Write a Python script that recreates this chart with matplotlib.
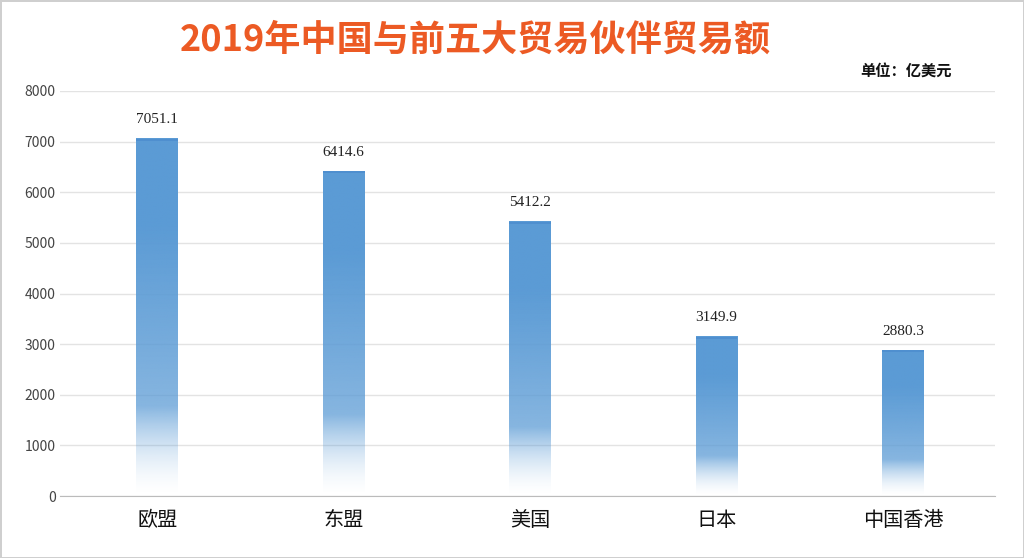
import numpy as np
import matplotlib.pyplot as plt
from matplotlib.patches import Rectangle

plt.rcParams['font.family'] = ['Noto Sans CJK SC', 'DejaVu Sans']

categories = ['欧盟', '东盟', '美国', '日本', '中国香港']
values = [7051.1, 6414.6, 5412.2, 3149.9, 2880.3]
y_ticks = [0, 1000, 2000, 3000, 4000, 5000, 6000, 7000, 8000]

fig = plt.figure(figsize=(10.24, 5.58), dpi=100)
fig.patch.set_edgecolor('#cfcfcf')
fig.patch.set_linewidth(2)
ax = fig.add_axes([0.059, 0.111, 0.913, 0.726])

bar_w = 0.225
top_rgb = np.array([0x5b, 0x9b, 0xd5]) / 255.0
for i, v in enumerate(values):
    # gradient: solid near top, fading to white toward the bottom
    n = 200
    t = np.linspace(1, 0, n)  # 1 at top row, 0 at bottom
    alpha = np.clip(t / 0.75, 0, 1) ** 0.8
    alpha = 0.55 + 0.45 * alpha
    alpha[t < 0.25] *= (t[t < 0.25] / 0.25) ** 1.5
    img = np.ones((n, 1, 4))
    img[:, 0, :3] = top_rgb
    img[:, 0, 3] = alpha
    ax.imshow(img, extent=[i - bar_w / 2, i + bar_w / 2, 0, v],
              aspect='auto', interpolation='bilinear', zorder=3)
    ax.add_patch(Rectangle((i - bar_w / 2, v - 40), bar_w, 40,
                           color='#4f8fcf', zorder=4, lw=0))
    ax.text(i, v + 250, f'{v:.1f}', ha='center', va='bottom', fontsize=11,
            family=['Liberation Serif', 'DejaVu Serif'], color='#222222')

ax.set_xlim(-0.52, 4.496)
ax.set_ylim(0, 8000)
ax.set_yticks(y_ticks)
ax.set_yticklabels([str(t) for t in y_ticks], fontsize=10, color='#444444')
ax.set_xticks(range(len(categories)))
ax.set_xticklabels(categories, fontsize=14.5, color='#111111')
ax.tick_params(axis='both', length=0)
ax.tick_params(axis='x', pad=10)
ax.grid(axis='y', color='#e3e3e3', lw=1, zorder=0)
ax.set_axisbelow(True)
for s in ['top', 'right', 'left']:
    ax.spines[s].set_visible(False)
ax.spines['bottom'].set_color('#bbbbbb')

fig.text(0.464, 0.928, '2019年中国与前五大贸易伙伴贸易额', ha='center', va='center',
         fontsize=26, fontweight='bold', color='#ec5a24')
fig.text(0.885, 0.873, '单位：亿美元', ha='center', va='center',
         fontsize=11, fontweight='bold', color='#111111')

fig.savefig('out.png', dpi=100)
